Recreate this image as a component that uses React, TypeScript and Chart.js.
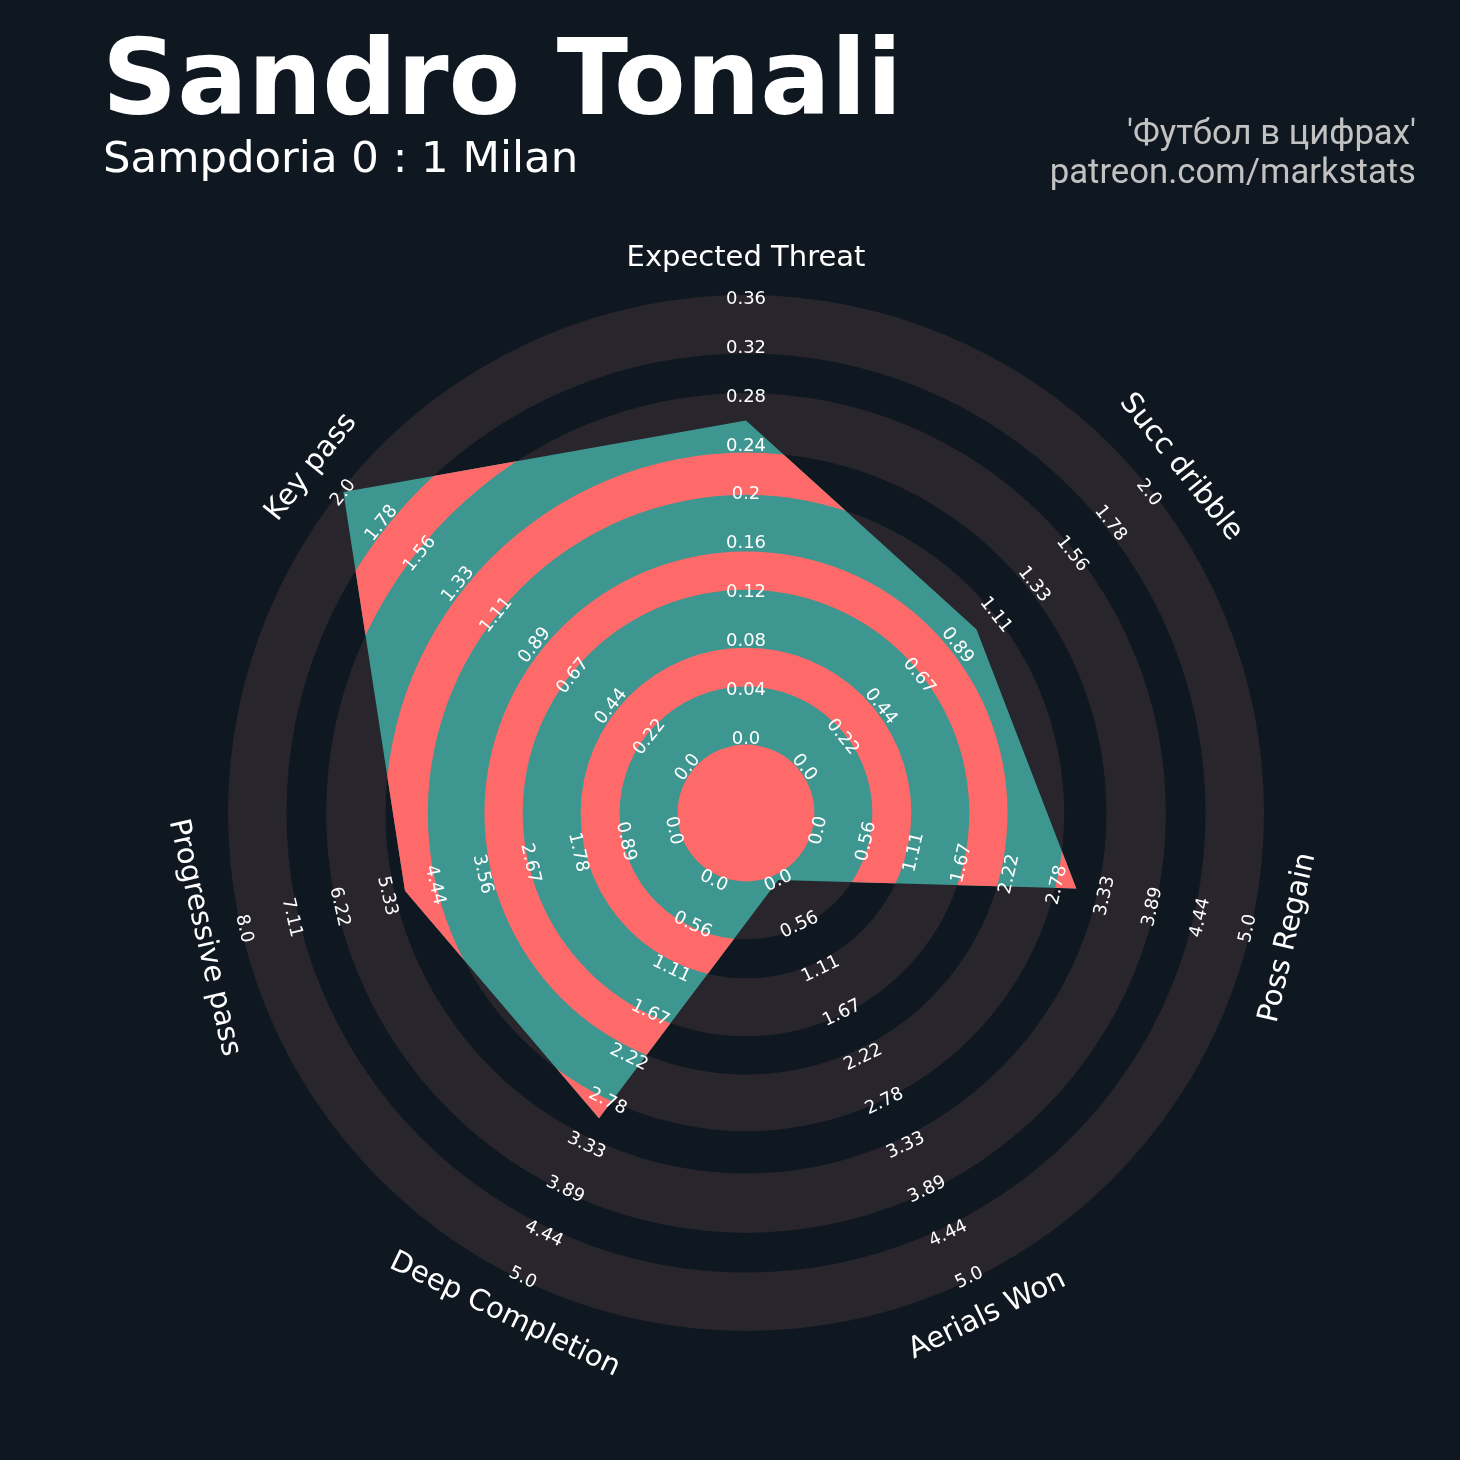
import React, { useEffect, useRef } from 'react';
import { Chart, registerables } from 'chart.js';

Chart.register(...registerables);

// ---------------- data ----------------
const TITLE = 'Sandro Tonali';
const SUBTITLE = 'Sampdoria 0 : 1 Milan';
const CREDIT_LINES = ["'Футбол в цифрах'", 'patreon.com/markstats'];

const params = [
  'Expected Threat',
  'Succ dribble',
  'Poss Regain',
  'Aerials Won',
  'Deep Completion',
  'Progressive pass',
  'Key pass',
];
const lowRange = [0, 0, 0, 0, 0, 0, 0];
const highRange = [0.36, 2.0, 5.0, 5.0, 5.0, 8.0, 2.0];
const playerValues = [0.26, 1.0, 3.0, 0.0, 3.0, 5.0, 2.0];

const etTicks = ['0.0', '0.04', '0.08', '0.12', '0.16', '0.2', '0.24', '0.28', '0.32', '0.36'];
const twoTicks = ['0.0', '0.22', '0.44', '0.67', '0.89', '1.11', '1.33', '1.56', '1.78', '2.0'];
const fiveTicks = ['0.0', '0.56', '1.11', '1.67', '2.22', '2.78', '3.33', '3.89', '4.44', '5.0'];
const eightTicks = ['0.0', '0.89', '1.78', '2.67', '3.56', '4.44', '5.33', '6.22', '7.11', '8.0'];
const tickLabels = [etTicks, twoTicks, fiveTicks, fiveTicks, fiveTicks, eightTicks, twoTicks];

// ---------------- style ----------------
const BG = '#0f1820';
const RING_GRAY = '#28252c';
const TEAL = '#3e9690';
const RED = '#fe6a69';
const STEPS = 9; // label steps between min and max
const SCALE_MIN = -1.5204;
const SCALE_MAX = 9.0612;
// band boundaries in scale units
const OUTER_BANDS: [number, number][] = [
  [-0.1224, 1.0612],
  [1.8571, 3.0408],
  [3.8224, 4.9796],
  [5.8429, 7.0571],
  [7.8673, 9.0612],
];
const INNER_BANDS: [number, number][] = [
  [SCALE_MIN, -0.1224],
  [1.0612, 1.8571],
  [3.0408, 3.8224],
  [4.9796, 5.8429],
  [7.0571, 7.8673],
];

const normalized = playerValues.map(
  (v, i) => ((v - lowRange[i]) / (highRange[i] - lowRange[i])) * STEPS
);

function ring(ctx: CanvasRenderingContext2D, cx: number, cy: number, r0: number, r1: number) {
  ctx.beginPath();
  ctx.arc(cx, cy, r1, 0, Math.PI * 2);
  if (r0 > 0) {
    ctx.moveTo(cx + r0, cy);
    ctx.arc(cx, cy, r0, 0, Math.PI * 2, true);
  }
  ctx.fill();
}

function textRotation(theta: number) {
  if (theta > Math.PI / 2 && theta < (3 * Math.PI) / 2) return theta - Math.PI;
  return theta;
}

const radarDecor = {
  id: 'radarDecor',
  beforeDraw(chart: any) {
    const ctx = chart.ctx as CanvasRenderingContext2D;
    ctx.save();
    ctx.fillStyle = BG;
    ctx.fillRect(0, 0, chart.width, chart.height);
    ctx.restore();
  },
  beforeDatasetsDraw(chart: any) {
    const ctx = chart.ctx as CanvasRenderingContext2D;
    const s = chart.scales.r;
    ctx.save();
    ctx.fillStyle = RING_GRAY;
    OUTER_BANDS.forEach(([a, b]) => {
      ring(ctx, s.xCenter, s.yCenter, s.getDistanceFromCenterForValue(a), s.getDistanceFromCenterForValue(b));
    });
    ctx.restore();
  },
  afterDatasetsDraw(chart: any) {
    const ctx = chart.ctx as CanvasRenderingContext2D;
    const s = chart.scales.r;
    const meta = chart.getDatasetMeta(0);
    // red rings clipped to the player polygon
    ctx.save();
    ctx.beginPath();
    meta.data.forEach((p: any, i: number) => {
      if (i === 0) ctx.moveTo(p.x, p.y);
      else ctx.lineTo(p.x, p.y);
    });
    ctx.closePath();
    ctx.clip();
    ctx.fillStyle = RED;
    INNER_BANDS.forEach(([a, b]) => {
      ring(ctx, s.xCenter, s.yCenter, s.getDistanceFromCenterForValue(a), s.getDistanceFromCenterForValue(b));
    });
    ctx.restore();

    // range labels
    ctx.save();
    ctx.fillStyle = '#ffffff';
    ctx.textAlign = 'center';
    ctx.textBaseline = 'middle';
    ctx.font = '18px "DejaVu Sans"';
    params.forEach((_, i) => {
      const theta = s.getIndexAngle(i);
      const rot = textRotation(theta);
      tickLabels[i].forEach((lab, k) => {
        const p = s.getPointPositionForValue(i, k);
        ctx.save();
        ctx.translate(p.x, p.y + 1);
        ctx.rotate(rot);
        ctx.fillText(lab, 0, 0);
        ctx.restore();
      });
    });
    // parameter labels
    ctx.font = '29px "DejaVu Sans"';
    params.forEach((name, i) => {
      const theta = s.getIndexAngle(i);
      const rot = textRotation(theta);
      const p = s.getPointPosition(i, s.drawingArea + 38);
      ctx.save();
      ctx.translate(p.x, p.y + 1);
      ctx.rotate(rot);
      ctx.fillText(name, 0, 0);
      ctx.restore();
    });
    ctx.restore();
  },
  afterDraw(chart: any) {
    const ctx = chart.ctx as CanvasRenderingContext2D;
    ctx.save();
    ctx.fillStyle = '#ffffff';
    ctx.textAlign = 'left';
    ctx.textBaseline = 'alphabetic';
    ctx.font = 'bold 104.5px "DejaVu Sans"';
    ctx.fillText(TITLE, 102, 114);
    ctx.font = '43.4px "DejaVu Sans"';
    ctx.fillText(SUBTITLE, 103, 172);
    ctx.fillStyle = '#c2c2c2';
    ctx.textAlign = 'right';
    ctx.font = '34.7px Roboto';
    ctx.fillText(CREDIT_LINES[0], 1416, 144);
    ctx.fillText(CREDIT_LINES[1], 1416, 183);
    ctx.restore();
  },
};

export default function App() {
  const canvasRef = useRef<HTMLCanvasElement | null>(null);

  useEffect(() => {
    const canvas = canvasRef.current;
    if (!canvas) return;
    const chart = new Chart(canvas, {
      type: 'radar',
      data: {
        labels: params,
        datasets: [
          {
            data: normalized,
            backgroundColor: TEAL,
            borderColor: 'rgba(0,0,0,0)',
            borderWidth: 0,
            pointRadius: 0,
            pointHoverRadius: 0,
            fill: 'start',
            tension: 0,
          },
        ],
      },
      options: {
        responsive: false,
        animation: false,
        events: [],
        layout: { padding: { left: 228, right: 195, top: 295, bottom: 128 } },
        plugins: {
          legend: { display: false },
          tooltip: { enabled: false },
          title: { display: false },
        },
        scales: {
          r: {
            min: SCALE_MIN,
            max: SCALE_MAX,
            startAngle: 0,
            ticks: { display: false },
            grid: { display: false },
            angleLines: { display: false },
            pointLabels: { display: false },
          },
        },
      },
      plugins: [radarDecor],
    } as any);
    return () => chart.destroy();
  }, []);

  return (
    <div
      style={{
        position: 'fixed',
        left: 0,
        top: 0,
        width: 1460,
        height: 1460,
        background: BG,
      }}
    >
      <canvas ref={canvasRef} width={1460} height={1460} style={{ display: 'block' }} />
    </div>
  );
}
